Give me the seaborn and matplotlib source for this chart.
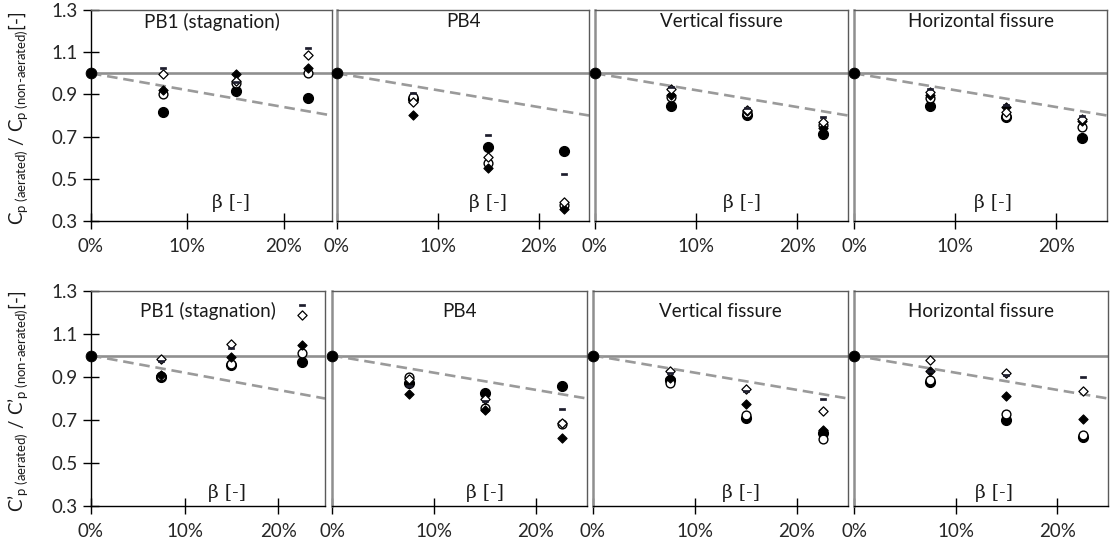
import matplotlib
matplotlib.use("Agg")
import matplotlib.pyplot as plt
import numpy as np
import pandas as pd
import seaborn as sns
from matplotlib.path import Path

sns.set_theme(style="white")
plt.rcParams["font.family"] = ["Lato", "DejaVu Sans"]
plt.rcParams["mathtext.fontset"] = "custom"
plt.rcParams["mathtext.rm"] = "Lato"
plt.rcParams["mathtext.it"] = "Lato:italic"

# ---- data -------------------------------------------------------------
beta = [0.075, 0.15, 0.225]          # air concentration
panel_titles = ["PB1 (stagnation)", "PB4", "Vertical fissure", "Horizontal fissure"]
series = ["S1", "S2", "S3", "S4", "S5"]

# Mean pressure ratio C_p(aerated)/C_p(non-aerated); rows follow `series`
mean_pb1 = [[0.818, 0.918, 0.884], [0.900, 0.953, 1.003], [0.921, 0.995, 1.024],
            [0.995, 0.965, 1.087], [1.024, 0.960, 1.121]]
mean_pb4 = [[0.880, 0.652, 0.633], [0.890, 0.576, 0.376], [0.802, 0.550, 0.355],
            [0.865, 0.605, 0.391], [0.905, 0.708, 0.521]]
mean_vert = [[0.847, 0.802, 0.712], [0.889, 0.810, 0.755], [0.895, 0.822, 0.739],
             [0.924, 0.826, 0.771], [0.934, 0.834, 0.791]]
mean_horiz = [[0.847, 0.791, 0.692], [0.881, 0.800, 0.744], [0.897, 0.842, 0.775],
              [0.910, 0.818, 0.783], [0.924, 0.850, 0.800]]

# Fluctuation ratio C'_p(aerated)/C'_p(non-aerated)
fluct_pb1 = [[0.899, 0.954, 0.970], [0.905, 0.960, 1.012], [0.910, 0.993, 1.047],
             [0.984, 1.055, 1.190], [0.975, 1.037, 1.237]]
fluct_pb4 = [[0.872, 0.827, 0.858], [0.900, 0.758, 0.680], [0.820, 0.745, 0.616],
             [0.890, 0.800, 0.685], [0.860, 0.790, 0.753]]
fluct_vert = [[0.888, 0.709, 0.641], [0.874, 0.722, 0.613], [0.895, 0.773, 0.655],
              [0.927, 0.846, 0.742], [0.920, 0.835, 0.796]]
fluct_horiz = [[0.877, 0.699, 0.621], [0.885, 0.730, 0.630], [0.928, 0.812, 0.703],
               [0.978, 0.920, 0.835], [0.930, 0.910, 0.900]]

reference_beta = [0.0, 0.25]         # dashed trend line end points
reference_ratio = [1.0, 0.80]

x_ticks = [0.0, 0.1, 0.2]
x_ticklabels = ["0%", "10%", "20%"]
y_ticks = [0.3, 0.5, 0.7, 0.9, 1.1, 1.3]
y_ticklabels = ["0.3", "0.5", "0.7", "0.9", "1.1", "1.3"]

rows = [[mean_pb1, mean_pb4, mean_vert, mean_horiz],
        [fluct_pb1, fluct_pb4, fluct_vert, fluct_horiz]]

# ---- styling ----------------------------------------------------------
dash_marker = Path([(-1, -0.4), (1, -0.4), (1, 0.4), (-1, 0.4), (-1, -0.4)],
                   [Path.MOVETO, Path.LINETO, Path.LINETO, Path.LINETO, Path.CLOSEPOLY])
styles = {
    "S1": dict(marker="o", color="black", edgecolor="black", s=52, linewidth=0.8),
    "S2": dict(marker="o", color="white", edgecolor="black", s=40, linewidth=1.0),
    "S3": dict(marker="D", color="black", edgecolor="black", s=22, linewidth=0.8),
    "S4": dict(marker="D", color="white", edgecolor="black", s=22, linewidth=0.9),
    "S5": dict(marker=dash_marker, color="#1c1c2c", edgecolor="#1c1c2c", s=16, linewidth=0.5),
}

W, H = 1117, 546
fig = plt.figure(figsize=(W / 100, H / 100), dpi=100)

row_extent = [(10, 221), (291, 506)]
col_extent = [[(91, 332), (337, 589), (595, 848), (854, 1107)],
              [(91, 325), (332, 587), (593, 848), (854, 1108)]]
title_y = [0.945, 0.906]
beta_y = [0.085, 0.06]
beta_x = [0.58, 0.60, 0.58, 0.55]

ylabels = [
    r"$\mathregular{C_{p\ (aerated)}\ /\ C_{p\ (non\text{-}aerated)}}$[-]",
    r"$\mathregular{C’_{p\ (aerated)}\ /\ C’_{p\ (non\text{-}aerated)}}$[-]",
]

for r in range(2):
    top, bottom = row_extent[r]
    for c in range(4):
        left, right = col_extent[r][c]
        ax = fig.add_axes([left / W, 1 - bottom / H, (right - left) / W, (bottom - top) / H])

        # reference lines
        ax.axhline(1.0, color="#8f8f8f", lw=1.9, zorder=1)
        sns.lineplot(x=reference_beta, y=reference_ratio, ax=ax, color="#9a9a9a",
                     lw=1.9, dashes=False, zorder=1)
        ax.lines[-1].set_dashes((4, 2.2))

        values = rows[r][c]
        frame = pd.DataFrame({
            "beta": np.tile(beta, len(series)),
            "ratio": np.concatenate(values),
            "series": np.repeat(series, len(beta)),
        })
        for name in series:
            sub = frame[frame["series"] == name]
            sns.scatterplot(data=sub, x="beta", y="ratio", ax=ax, zorder=3,
                            legend=False, **styles[name])
        # common origin point
        sns.scatterplot(x=[0.0], y=[1.0], ax=ax, marker="o", color="black",
                        edgecolor="black", s=60, zorder=4, legend=False, clip_on=False)

        ax.set_xlim(0, 0.25)
        ax.set_ylim(0.3, 1.3)
        ax.set_xlabel("")
        ax.set_ylabel("")
        ax.set_xticks(x_ticks)
        ax.set_xticklabels(x_ticklabels)
        ax.tick_params(axis="x", direction="inout", length=11, width=1, color="black",
                       labelsize=13.5, pad=7, bottom=True)
        if c == 0:
            ax.set_yticks(y_ticks)
            ax.set_yticklabels(y_ticklabels)
            ax.tick_params(axis="y", direction="inout", length=11, width=1, color="black",
                           labelsize=13.5, pad=4, left=True)
            ax.spines["left"].set_color("black")
            ax.spines["left"].set_linewidth(1.0)
        else:
            ax.set_yticks(y_ticks)
            ax.set_yticklabels([])
            ax.tick_params(axis="y", length=0)
            ax.spines["left"].set_color("#8f8f8f")
            ax.spines["left"].set_linewidth(1.8)
        ax.spines["bottom"].set_color("black")
        ax.spines["bottom"].set_linewidth(1.0)
        for side in ("top", "right"):
            ax.spines[side].set_color("#5a5a5a")
            ax.spines[side].set_linewidth(1.0)
        ax.grid(False)
        ax.set_facecolor("white")

        ax.text(0.5, title_y[r], panel_titles[c], transform=ax.transAxes,
                ha="center", va="center", fontsize=13.5, color="#1a1a1a")
        ax.text(beta_x[c], beta_y[r], "β [-]", transform=ax.transAxes,
                ha="center", va="center", fontsize=13.5, color="#1a1a1a",
                family=["DejaVu Serif", "Lato"])

    fig.text(0.016, 1 - ((top + bottom) / 2 + 3) / H, ylabels[r], rotation=90,
             ha="center", va="center", fontsize=13.5, color="#1a1a1a")

fig.savefig("out.png", dpi=100, facecolor="white")
